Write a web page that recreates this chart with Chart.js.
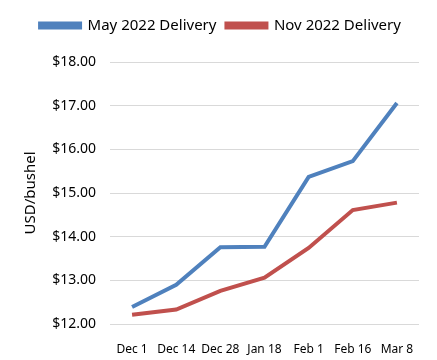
<!DOCTYPE html>
<html>
<head>
<meta charset="utf-8">
<script src="https://cdn.jsdelivr.net/npm/chart.js@4.4.0/dist/chart.umd.min.js"></script>
<style>
  html, body { margin: 0; padding: 0; background: #fff; }
  #wrap { width: 437px; height: 360px; }
</style>
</head>
<body>
<div id="wrap"><canvas id="priceChart" width="437" height="360"></canvas></div>
<script>
const dates = ["Dec 1", "Dec 14", "Dec 28", "Jan 18", "Feb 1", "Feb 16", "Mar 8"];
const mayDelivery = [12.39, 12.90, 13.76, 13.77, 15.37, 15.73, 17.06];
const novDelivery = [12.21, 12.33, 12.76, 13.06, 13.74, 14.61, 14.78];
const yMin = 12;
const yMax = 18;

const fontFamily = "'Noto Sans', 'Open Sans', sans-serif";
const textColor = '#000';

// push the plot area down a bit below the legend
const legendSpace = {
    id: 'legendSpace',
    beforeInit(chart) {
        const fit = chart.legend.fit;
        chart.legend.fit = function () {
            fit.bind(chart.legend)();
            this.height += 19;
        };
    }
};

let ctx = document.getElementById("priceChart").getContext("2d");
var priceChart = new Chart(ctx, {
    type: "line",
    data: {
        labels: dates,
        datasets: [{
            label: "May 2022 Delivery",
            data: mayDelivery,
            borderColor: '#4F81BD',
            backgroundColor: '#4F81BD',
            borderWidth: 4,
            pointRadius: 0,
            tension: 0,
            fill: false
        }, {
            label: "Nov 2022 Delivery",
            data: novDelivery,
            borderColor: '#C0504D',
            backgroundColor: '#C0504D',
            borderWidth: 4,
            pointRadius: 0,
            tension: 0,
            fill: false
        }]
    },
    options: {
        responsive: false,
        animation: false,
        layout: {
            padding: { left: 22, right: 18, top: 8, bottom: 0 }
        },
        scales: {
            y: {
                min: yMin,
                max: yMax,
                ticks: {
                    stepSize: 1,
                    padding: 14,
                    color: textColor,
                    font: { family: fontFamily, size: 14 },
                    callback: v => '$' + v.toFixed(2)
                },
                title: {
                    display: true,
                    text: 'USD/bushel',
                    color: textColor,
                    font: { family: fontFamily, size: 15 },
                    padding: { top: 0, bottom: 2 }
                },
                grid: {
                    color: '#D9D9D9',
                    drawTicks: false
                },
                border: { display: false },
                afterFit: s => { s.width = 88; }
            },
            x: {
                offset: true,
                ticks: {
                    color: textColor,
                    font: { family: fontFamily, size: 12 },
                    maxRotation: 0,
                    autoSkip: false,
                    padding: 10
                },
                grid: { display: false },
                border: { display: false },
                afterFit: s => { s.height = 36; }
            }
        },
        plugins: {
            legend: {
                position: 'top',
                labels: {
                    boxWidth: 40,
                    boxHeight: 4,
                    color: textColor,
                    font: { family: fontFamily, size: 15 },
                    padding: 10
                }
            },
            tooltip: { enabled: false }
        }
    },
    plugins: [legendSpace]
});
</script>
</body>
</html>
